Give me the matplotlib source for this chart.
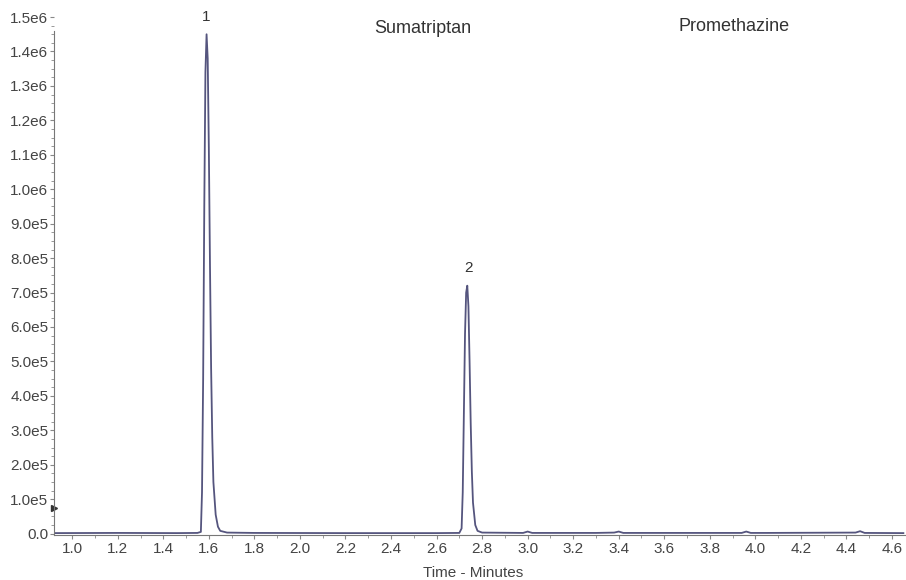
import matplotlib.pyplot as plt
from matplotlib.ticker import MultipleLocator, FormatStrFormatter

plt.rcParams['font.family'] = ['Liberation Sans', 'DejaVu Sans']

# chromatogram trace (minutes, counts)
times = [0.92, 1.20, 1.46, 1.55, 1.565, 1.57, 1.575, 1.58, 1.585, 1.59, 1.595,
         1.60, 1.605, 1.61, 1.615, 1.62, 1.63, 1.64, 1.65, 1.68, 1.80, 2.20,
         2.60, 2.70, 2.71, 2.715, 2.72, 2.725, 2.73, 2.735, 2.74, 2.745, 2.75,
         2.755, 2.76, 2.77, 2.78, 2.80, 2.98, 3.00, 3.02, 3.30, 3.38, 3.40,
         3.42, 3.94, 3.96, 3.98, 4.05, 4.44, 4.46, 4.48, 4.65]
counts = [1.5e3, 2e3, 1.5e3, 2e3, 5e3, 1.2e5, 4.5e5, 9.5e5, 1.34e6, 1.45e6, 1.38e6,
          1.12e6, 7.8e5, 4.8e5, 2.8e5, 1.5e5, 5.5e4, 2e4, 8e3, 3e3, 2e3, 1.5e3,
          1.5e3, 2e3, 1.5e4, 1.2e5, 3.5e5, 5.8e5, 7.0e5, 7.2e5, 6.6e5, 5.0e5, 3.2e5,
          1.8e5, 9e4, 2.5e4, 8e3, 3e3, 2e3, 6e3, 2e3, 2e3, 3e3, 6e3,
          2e3, 2e3, 6e3, 2e3, 2e3, 3e3, 7e3, 2e3, 1.5e3]

peak_labels = ['1', '2']
peak_times = [1.59, 2.739]
peak_heights = [1.45e6, 7.2e5]

compounds = ['Sumatriptan', 'Promethazine']
compound_x = [2.54, 3.905]
compound_y = [1.453e6, 1.459e6]

fig = plt.figure(figsize=(9.06, 5.8), dpi=100)
ax = fig.add_axes([0.0596, 0.0776, 0.94, 0.893])

ax.plot(times, counts, color='#55557e', lw=1.3)

ax.set_xlim(0.92, 4.66)
ax.set_ylim(-4e3, 1.5e6)

for lab, t, h in zip(peak_labels, peak_times, peak_heights):
    ax.text(t, h + 3e4, lab, ha='center', va='bottom', fontsize=11, color='#333333')

for name, cx, cy in zip(compounds, compound_x, compound_y):
    ax.text(cx, cy, name, ha='center', va='baseline', fontsize=13, color='#333333')

# small threshold marker on the y axis
ax.plot([0.92], [7.5e4], marker='>', ms=4, color='#333333', clip_on=False)

for s in ['top', 'right']:
    ax.spines[s].set_visible(False)
ax.spines['left'].set_bounds(-4e3, 1.46e6)
ax.spines['left'].set_color('#777777')
ax.spines['bottom'].set_color('#777777')

ax.xaxis.set_major_locator(MultipleLocator(0.2))
ax.xaxis.set_minor_locator(MultipleLocator(0.1))
ax.yaxis.set_major_locator(MultipleLocator(1e5))
ax.yaxis.set_minor_locator(MultipleLocator(2.5e4))
ax.xaxis.set_major_formatter(FormatStrFormatter('%.1f'))

def ylab(v, pos):
    if v == 0:
        return '0.0'
    e = 5 if v < 1e6 - 1 else 6
    return f'{v / 10**e:.1f}e{e}'

ax.yaxis.set_major_formatter(ylab)
ax.tick_params(axis='both', which='both', colors='#888888', labelcolor='#444444',
               labelsize=11)
ax.tick_params(axis='y', which='major', length=3, pad=1)
ax.tick_params(axis='y', which='minor', length=2)
ax.tick_params(axis='x', which='major', length=3, pad=2)
ax.tick_params(axis='x', which='minor', length=2)

ax.set_xlabel('Time - Minutes', fontsize=11, color='#444444', va='center')
ax.xaxis.set_label_coords(0.492, -0.073)

fig.savefig('out.png', dpi=100)
